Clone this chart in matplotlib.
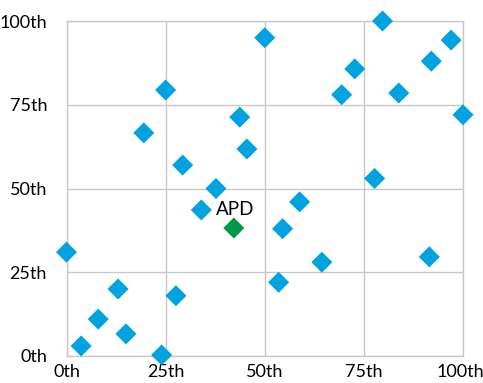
import matplotlib
matplotlib.use("Agg")
import matplotlib.pyplot as plt
import matplotlib.transforms as mtransforms

plt.rcParams['font.family'] = ['Lato', 'DejaVu Sans']

x_vals = [0, 3.7, 8, 13, 15, 24, 27.6, 19.5, 25, 29.3, 37.7, 34, 43.7, 45.5, 50,
          54.5, 58.8, 53.5, 64.4, 69.4, 72.7, 77.7, 79.7, 83.8, 92, 97, 100, 91.5]
y_vals = [31, 3, 11, 20, 6.6, 0.3, 18, 66.6, 79.4, 57, 50, 43.6, 71.3, 61.8, 95,
          38, 46, 22, 28, 78, 85.7, 53, 100, 78.5, 88, 94.3, 72, 29.6]
apd_x = [42.2]
apd_y = [38.2]
apd_label = "APD"
ticks = [0, 25, 50, 75, 100]
tick_labels = ["0th", "25th", "50th", "75th", "100th"]

fig = plt.figure(figsize=(4.83, 3.83), dpi=100)
ax = fig.add_axes([66.5/483, 1-356/383, (463-66.5)/483, (356-21)/383])
ax.set_xlim(0, 100)
ax.set_ylim(0, 100)
ax.set_xticks(ticks)
ax.set_yticks(ticks)
ax.set_xticklabels(tick_labels)
ax.set_yticklabels(tick_labels)
ax.grid(True, color='#c8c8c8', linewidth=1)
ax.set_axisbelow(True)
for s in ax.spines.values():
    s.set_color('#c8c8c8')
    s.set_linewidth(1)
ax.tick_params(length=0, labelsize=13, colors='#000000')
ax.tick_params(axis='x', pad=6)
ax.tick_params(axis='y', pad=14)

# nudge the last x label slightly left so it stays inside the canvas
last = ax.get_xticklabels()[-1]
last.set_transform(last.get_transform() + mtransforms.ScaledTranslation(-3/100, 0, fig.dpi_scale_trans))

ax.scatter(x_vals, y_vals, marker='D', s=115, color='#00a3e0', edgecolors='none', clip_on=False, zorder=3)
ax.scatter(apd_x, apd_y, marker='D', s=115, color='#00984a', edgecolors='none', clip_on=False, zorder=3)
ax.annotate(apd_label, (apd_x[0], apd_y[0]), xytext=(1, 7), textcoords='offset points',
            ha='center', va='bottom', fontsize=13.5)

fig.savefig("out.png", dpi=100)
